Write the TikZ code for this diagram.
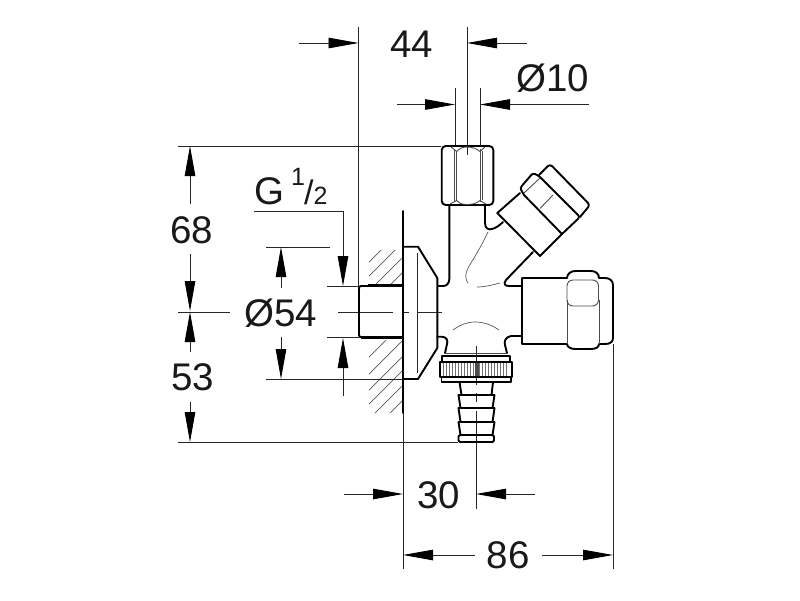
\documentclass[tikz,border=0pt]{standalone}
\usepackage{fontspec}
\setmainfont{Liberation Sans}
\usetikzlibrary{arrows.meta}
\tikzset{
  thinline/.style={line width=0.9pt,draw=black!85},
  hairline/.style={line width=0.7pt,draw=black!65},
  part/.style={line width=1.9pt,draw=black,line join=round,line cap=round},
  subpart/.style={line width=0.9pt,draw=black!70},
  dimarrow/.style={thinline,-{Triangle[length=30pt,width=10.5pt,color=black]}},
  dimtext/.style={inner sep=0pt,font=\fontsize{38.5}{38.5}\selectfont,text=black!90}
}
\begin{document}
\begin{tikzpicture}[x=1pt,y=-1pt]
\useasboundingbox (0,0) rectangle (800,600);
\fill[white] (0,0) rectangle (800,600);

% hatching
\begin{scope}
\clip (369,211) rectangle (402,284) (369,340) rectangle (402,413);
\foreach \s in {584,600,615,631,645,660,675,726,743,759,773,788,803}
  \draw[hairline] (\s-250,250) -- (\s-450,450);
\end{scope}

% extension and centre lines
\draw[thinline] (178,146) -- (441,146);
\draw[thinline] (178,442) -- (458,442);
\draw[thinline] (178,312) -- (230,312);
\draw[thinline] (338,312) -- (393,312);
\draw[thinline] (403,312) -- (409,312) (418,312) -- (442,312);
\draw[thinline] (266,247) -- (330,247);
\draw[thinline] (266,379) -- (403,379);
\draw[thinline] (327,286) -- (359,286);
\draw[thinline] (327,337.5) -- (359,337.5);
\draw[thinline] (358.5,27) -- (358.5,286);
\draw[thinline] (467,27) -- (467,155);
\draw[thinline] (455,88) -- (455,146);
\draw[thinline] (480,88) -- (480,146);
\draw[thinline] (403,413) -- (403,569);
\draw[thinline] (613,344) -- (613,569);
\draw[thinline] (476,346) -- (476,385) (476,393) -- (476,402) (476,411) -- (476,509);
\draw[thinline] (417,253) -- (417,373);

% dimension arrows
\draw[dimarrow] (190,204) -- (190,146);
\draw[dimarrow] (190,254) -- (190,311);
\draw[dimarrow] (190,352) -- (190,312);
\draw[dimarrow] (190,402) -- (190,442);
\draw[dimarrow] (281,288) -- (281,247);
\draw[dimarrow] (281,337) -- (281,379);
\draw[thinline] (254,211) -- (343,211);
\draw[dimarrow] (343,211) -- (343,286);
\draw[dimarrow] (343,396) -- (343,338);
\draw[dimarrow] (299,43) -- (358.5,43);
\draw[dimarrow] (527,43) -- (467,43);
\draw[dimarrow] (397,104.5) -- (455,104.5);
\draw[dimarrow] (589,104.5) -- (480,104.5);
\draw[dimarrow] (344,494) -- (403,494);
\draw[dimarrow] (535,494) -- (476,494);
\draw[dimarrow] (475,555) -- (403,555);
\draw[dimarrow] (542,555) -- (613,555);

% wall and flange
\draw[part] (403,211) -- (403,413);
\draw[part] (403,246.7) -- (418,246.7) -- (437.3,278) -- (437.3,348) -- (418,379) -- (403,379);
% inlet thread
\draw[part] (403,286) -- (361,286) .. controls (359,286) and (359,287) .. (359,289) -- (359,335) .. controls (359,337) and (360,337) .. (361,337) -- (403,337);
\fill[black] (368,284) rectangle (403,286.5);
\fill[black] (361,336.5) rectangle (403,339);

% body
\draw[part] (449.3,205) -- (449.3,279) .. controls (449.3,284) and (446,286) .. (443,286) -- (438,286);
\draw[part] (485,205) -- (485,223) .. controls (485,229) and (489,230) .. (492,229) .. controls (496,228) and (500,225) .. (503,222);
\draw[part] (533,252) -- (506,280) .. controls (503,284) and (505,286) .. (509,286) -- (522,286);
\draw[part] (437.3,336.7) -- (442,336.7) .. controls (447,337) and (448,341) .. (447,344) -- (445,353);
\draw[part] (522,336) -- (511,336) .. controls (505,337) and (504,342) .. (505,345) -- (507,353);
\draw[hairline] (488,232) .. controls (482,245) and (474,258) .. (468,268) .. controls (465,274) and (465,279) .. (468,283);
\draw[hairline] (477,287) .. controls (485,287) and (492,285) .. (500,283);
\draw[hairline] (453,330) .. controls (460,325) and (467,322) .. (475,322) .. controls (484,322) and (492,325) .. (499,330);

% top nut
\draw[part,rounded corners=4pt] (441.7,146) rectangle (493.3,205);
\draw[subpart] (454,149) -- (454,202) (456.7,151) -- (456.7,200) (480,149) -- (480,202) (482.7,151) -- (482.7,200);
\draw[subpart] (451,147) -- (456.7,151.5) .. controls (460,147.5) and (464,147) .. (467,147) .. controls (471,147) and (476,148) .. (480,151.5) -- (485,147);
\draw[subpart] (450,204) -- (456.7,200.5) .. controls (460,204) and (463,204.5) .. (467,204.5) .. controls (471,204.5) and (476,204) .. (480,200.5) -- (486,204);

% angled valve
\draw[part] (497.3,213) -- (540,256) -- (562,234) -- (524,195);
\draw[part] (497.3,213) -- (520,193);
\draw[part,rounded corners=2.5pt] (524,195) -- (520,188) -- (533,173) -- (539,176) -- (580,217) -- (562,234);
\draw[part,rounded corners=3pt] (539,175) -- (550,164) -- (590,205) -- (580,217);
\draw[subpart] (524,193) -- (540,178);
\draw[subpart] (540,208.5) -- (553,195);

% right cap
\draw[part] (522,344) -- (522,278) -- (567,278) .. controls (567,274) and (571,271) .. (575,271) -- (591,271) .. controls (596,271) and (599,274) .. (599,278) -- (605,278) .. controls (610,278) and (613,281) .. (613,285) -- (613,338) .. controls (613,342) and (610,344) .. (605,344) -- (599,344) .. controls (599,347) and (596,349) .. (591,349) -- (575,349) .. controls (571,349) and (567,347) .. (567,344) -- cycle;
\draw[subpart,rounded corners=6pt] (567,280) rectangle (598.5,306);
\draw[subpart] (567,300) -- (567,344) (599,300) -- (599,344);

% hose connector
\draw[subpart] (445,353) -- (507,353) (445,356) -- (507,356);
\draw[part] (442,356) rectangle (510,362);
\draw[part] (440,362) rectangle (512,377);
\draw[part] (441.5,377) rectangle (511,382);
\foreach \k in {0,...,21}
  \draw[line width=1pt,draw=black!55] ({443+\k*3},363) -- ({443+\k*3},376);
\fill[black!70] (475,363) rectangle (479,376);
\draw[part] (459.5,382) -- (461.5,395) (493,382) -- (491.5,395);
\draw[part] (458.5,395) -- (494.5,395);
\draw[part] (458.5,395) -- (460.5,408) (494.5,395) -- (492.5,408);
\draw[part] (458.5,408) -- (494.5,408);
\draw[part] (458.5,408) -- (460.5,422) (494.5,408) -- (492.5,422);
\draw[part] (458.5,422) -- (494.5,422);
\draw[part] (458.5,422) -- (460.5,435) (494.5,422) -- (492.5,435);
\draw[part,rounded corners=1.5pt] (458.5,435) rectangle (494,442);

% labels
\node[dimtext] (t44) at (412,44) {44};
\node[dimtext] (t10) at (553,78) {Ø10};
\node[dimtext] (t68) at (192,230) {68};
\node[dimtext] (t53) at (193,377) {53};
\node[dimtext] (t54) at (281,313) {Ø54};
\node[dimtext] (t30) at (438.5,495) {30};
\node[dimtext] (t86) at (508,555) {86};
\node[dimtext,anchor=base west] (tg) at (254,204) {G\kern7pt\raisebox{19pt}{\fontsize{25}{25}\selectfont 1}\kern-1pt{\fontsize{34}{34}\selectfont /}\kern0pt{\fontsize{25}{25}\selectfont 2}};
\end{tikzpicture}
\end{document}
